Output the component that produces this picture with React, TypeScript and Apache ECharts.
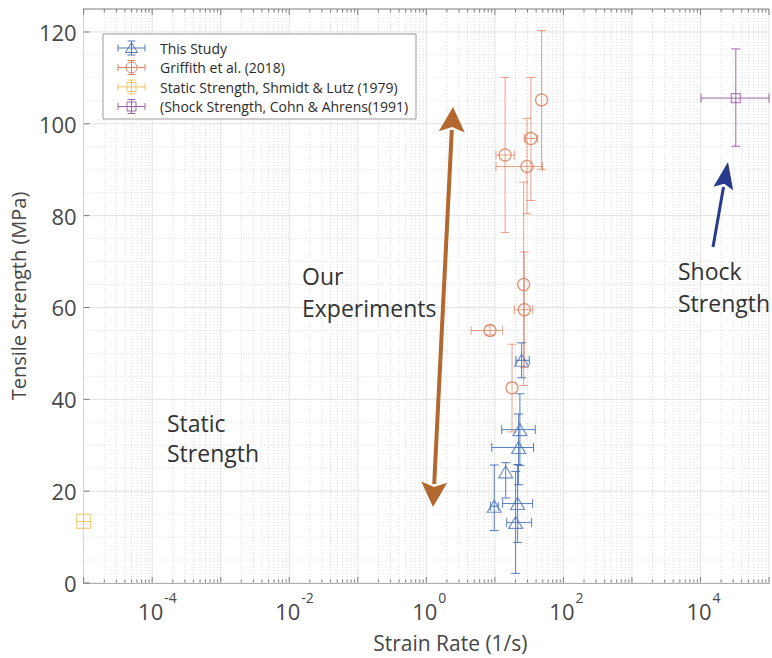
import React, { useEffect, useRef } from 'react';
import * as echarts from 'echarts';

const FONT = '"Open Sans", "Noto Sans", sans-serif';
const AXIS_COLOR = '#7d7d7d';
const TEXT_COLOR = '#474747';

// ---- This Study (blue triangles)
const thisStudyRate = [24.6, 23.2, 22.2, 14.4, 9.8, 21.5, 20.1];
const thisStudyStrength = [48.5, 33.4, 29.5, 24.2, 16.7, 17.3, 13.2];
const thisStudyRateLow = [20.3, 12.6, 9.0, 14.4, 8.6, 13.0, 14.9];
const thisStudyRateHigh = [31.8, 38.8, 36.7, 14.4, 11.2, 35.6, 34.4];
const thisStudyStrengthLow = [44.7, 25.6, 21.4, 18.5, 11.4, 8.8, 2.1];
const thisStudyStrengthHigh = [52.3, 41.2, 36.8, 26.2, 25.7, 25.8, 24.3];

// ---- Griffith et al. (2018) (orange circles)
const griffithRate = [48.0, 33.6, 14.1, 29.4, 26.3, 26.9, 8.5, 17.8];
const griffithStrength = [105.2, 96.8, 93.2, 90.7, 65.0, 59.5, 55.0, 42.5];
const griffithRateLow = [48.0, 26.9, 10.4, 10.4, 26.3, 19.2, 4.5, 17.8];
const griffithRateHigh = [48.0, 42.1, 19.2, 49.7, 26.3, 35.6, 13.0, 17.8];
const griffithStrengthLow = [90.1, 83.3, 76.3, 80.4, 43.0, 46.9, 54.0, 32.9];
const griffithStrengthHigh = [120.3, 110.1, 110.1, 101.2, 87.3, 72.1, 56.0, 52.0];

// ---- Static Strength, Shmidt & Lutz (1979) (yellow square)
const staticRate = [1e-5];
const staticStrength = [13.4];
const staticRateLow = [0.8e-5];
const staticRateHigh = [1.25e-5];
const staticStrengthLow = [11.9];
const staticStrengthHigh = [14.9];

// ---- Shock Strength, Cohn & Ahrens (1991) (purple square)
const shockRate = [32800];
const shockStrength = [105.6];
const shockRateLow = [10200];
const shockRateHigh = [100000];
const shockStrengthLow = [95.1];
const shockStrengthHigh = [116.3];

// ---- axes
const X_MIN = 1e-5;
const X_MAX = 1e5;
const Y_MIN = 0;
const Y_MAX = 125;
const yMajorTicks = [0, 20, 40, 60, 80, 100, 120];
const yMinorTicks = [5, 10, 15, 25, 30, 35, 45, 50, 55, 65, 70, 75, 85, 90, 95, 105, 110, 115];
const xDecadeExponents = [-5, -4, -3, -2, -1, 0, 1, 2, 3, 4, 5];
const xMinorMultipliers = [2, 3, 4, 5, 6, 7, 8, 9];
const xLabelExponents = [-4, -2, 0, 2, 4];

const SERIES_NAMES = [
  'This Study',
  'Griffith et al. (2018)',
  'Static Strength, Shmidt & Lutz (1979)',
  '(Shock Strength, Cohn & Ahrens(1991)',
];
const BLUE = '#4d77b9';
const ORANGE = '#dd8462';
const ORANGE_MARK = '#d8764f';
const YELLOW = '#efc56a';
const PURPLE = '#9a68a8';

function rows(x: number[], y: number[], xl: number[], xh: number[], yl: number[], yh: number[]) {
  return x.map((v, i) => [v, y[i], xl[i], xh[i], yl[i], yh[i]]);
}

function errorBarRender(color: string, cap: number, opacity: number) {
  return (params: any, api: any) => {
    const x = api.value(0);
    const y = api.value(1);
    const xl = api.value(2);
    const xh = api.value(3);
    const yl = api.value(4);
    const yh = api.value(5);
    const c = api.coord([x, y]);
    const style = { stroke: color, lineWidth: 1, fill: null, opacity };
    const children: any[] = [];
    if (yh > yl) {
      const pl = api.coord([x, yl]);
      const ph = api.coord([x, yh]);
      children.push({ type: 'line', shape: { x1: c[0], y1: pl[1], x2: c[0], y2: ph[1] }, style });
      children.push({ type: 'line', shape: { x1: c[0] - cap, y1: pl[1], x2: c[0] + cap, y2: pl[1] }, style });
      children.push({ type: 'line', shape: { x1: c[0] - cap, y1: ph[1], x2: c[0] + cap, y2: ph[1] }, style });
    }
    if (xh > xl) {
      const pl = api.coord([xl, y]);
      const ph = api.coord([xh, y]);
      children.push({ type: 'line', shape: { x1: pl[0], y1: c[1], x2: ph[0], y2: c[1] }, style });
      children.push({ type: 'line', shape: { x1: pl[0], y1: c[1] - cap, x2: pl[0], y2: c[1] + cap }, style });
      children.push({ type: 'line', shape: { x1: ph[0], y1: c[1] - cap, x2: ph[0], y2: c[1] + cap }, style });
    }
    return { type: 'group', children };
  };
}

// grid / tick data: [kind, x, y, exponent]
function buildGridData() {
  const out: number[][] = [];
  xDecadeExponents.forEach((e) => {
    out.push([0, Math.pow(10, e), 0, e]);
    if (e < 5) xMinorMultipliers.forEach((m) => out.push([1, m * Math.pow(10, e), 0, e]));
  });
  yMajorTicks.forEach((v) => out.push([2, 1, v, 0]));
  yMinorTicks.forEach((v) => out.push([3, 1, v, 0]));
  out.push([4, 1, Y_MAX, 0]);
  return out;
}

function gridRender(params: any, api: any) {
  const kind = api.value(0);
  const xv = api.value(1);
  const yv = api.value(2);
  const ex = api.value(3);
  const gridMajor = { stroke: '#e2e2e2', lineWidth: 1 };
  const gridMinor = { stroke: '#dcdcdc', lineWidth: 1, lineDash: [1, 2] };
  const tick = { stroke: AXIS_COLOR, lineWidth: 1 };
  if (kind === 0 || kind === 1) {
    const b = api.coord([xv, Y_MIN]);
    const t = api.coord([xv, Y_MAX]);
    const len = kind === 0 ? 6 : 3.5;
    const children: any[] = [
      { type: 'line', shape: { x1: b[0], y1: b[1], x2: t[0], y2: t[1] }, style: kind === 0 ? gridMajor : gridMinor },
      { type: 'line', shape: { x1: b[0], y1: b[1], x2: b[0], y2: b[1] - len }, style: tick },
      { type: 'line', shape: { x1: t[0], y1: t[1], x2: t[0], y2: t[1] + len }, style: tick },
    ];
    if (kind === 0 && xLabelExponents.indexOf(ex) >= 0) {
      children.push({
        type: 'text', x: b[0] - 1.5, y: b[1] + 28,
        style: { text: '10', font: `22px ${FONT}`, fill: TEXT_COLOR, align: 'center', verticalAlign: 'middle' },
      });
      children.push({
        type: 'text', x: b[0] + 12, y: b[1] + 7,
        style: { text: String(ex), font: `14px ${FONT}`, fill: TEXT_COLOR, align: 'left', verticalAlign: 'top' },
      });
    }
    return { type: 'group', children };
  }
  const l = api.coord([X_MIN, yv]);
  const r = api.coord([X_MAX, yv]);
  if (kind === 4) {
    return { type: 'line', shape: { x1: l[0], y1: l[1], x2: r[0], y2: r[1] }, style: { stroke: AXIS_COLOR, lineWidth: 1 } };
  }
  if (kind === 2) {
    return {
      type: 'group',
      children: [
        { type: 'line', shape: { x1: l[0], y1: l[1], x2: r[0], y2: r[1] }, style: gridMajor },
        { type: 'line', shape: { x1: l[0], y1: l[1], x2: l[0] + 6, y2: l[1] }, style: tick },
      ],
    };
  }
  return { type: 'line', shape: { x1: l[0], y1: l[1], x2: r[0], y2: r[1] }, style: gridMinor };
}

function arrowHead(tip: number[], dir: number[], len: number, halfW: number, notch: number) {
  const n = Math.hypot(dir[0], dir[1]);
  const u = [dir[0] / n, dir[1] / n];
  const p = [-u[1], u[0]];
  const base = [tip[0] - u[0] * len, tip[1] - u[1] * len];
  return [
    tip,
    [base[0] + p[0] * halfW, base[1] + p[1] * halfW],
    [tip[0] - u[0] * (len - notch), tip[1] - u[1] * (len - notch)],
    [base[0] - p[0] * halfW, base[1] - p[1] * halfW],
  ];
}

function legendGraphics() {
  const g: any[] = [
    { type: 'rect', shape: { x: 103, y: 34, width: 313, height: 85 }, style: { fill: '#fff', stroke: '#9b9b9b', lineWidth: 1 }, z: 100 },
  ];
  const colors = [BLUE, ORANGE, YELLOW, PURPLE];
  SERIES_NAMES.forEach((name, i) => {
    const cy = 48 + i * 19.5;
    const cx = 131.5;
    const col = colors[i];
    const st = { stroke: col, lineWidth: 1, fill: null };
    g.push({ type: 'line', shape: { x1: 118, y1: cy, x2: 145, y2: cy }, style: st, z: 101 });
    g.push({ type: 'line', shape: { x1: 118, y1: cy - 3.5, x2: 118, y2: cy + 3.5 }, style: st, z: 101 });
    g.push({ type: 'line', shape: { x1: 145, y1: cy - 3.5, x2: 145, y2: cy + 3.5 }, style: st, z: 101 });
    g.push({ type: 'line', shape: { x1: cx, y1: cy - 7, x2: cx, y2: cy + 7 }, style: st, z: 101 });
    g.push({ type: 'line', shape: { x1: cx - 4, y1: cy - 7, x2: cx + 4, y2: cy - 7 }, style: st, z: 101 });
    g.push({ type: 'line', shape: { x1: cx - 4, y1: cy + 7, x2: cx + 4, y2: cy + 7 }, style: st, z: 101 });
    if (i === 0) {
      g.push({ type: 'polygon', shape: { points: [[cx, cy - 5.5], [cx + 6, cy + 4.5], [cx - 6, cy + 4.5]] }, style: st, z: 101 });
    } else if (i === 1) {
      g.push({ type: 'circle', shape: { cx, cy, r: 5.5 }, style: st, z: 101 });
    } else {
      g.push({ type: 'rect', shape: { x: cx - 4.5, y: cy - 4.5, width: 9, height: 9 }, style: st, z: 101 });
    }
    g.push({
      type: 'text', x: 160, y: cy, z: 101,
      style: { text: name, font: `14px ${FONT}`, fill: '#2b2b2b', verticalAlign: 'middle', align: 'left' },
    });
  });
  return g;
}

function annotationGraphics() {
  const txt = (s: string, x: number, y: number) => ({
    type: 'text', x, y, z: 50,
    style: { text: s, font: `23px ${FONT}`, fill: '#333333', verticalAlign: 'middle', align: 'left' },
  });
  const BROWN = '#b2682f';
  const NAVY = '#283a8e';
  const topTip = [453, 107];
  const botTip = [433, 507];
  const dir = [topTip[0] - botTip[0], topTip[1] - botTip[1]];
  const blueTip = [728, 162];
  const blueTail = [713, 247];
  const bdir = [blueTip[0] - blueTail[0], blueTip[1] - blueTail[1]];
  return [
    txt('Static', 167, 423),
    txt('Strength', 167, 453),
    txt('Our', 302, 276),
    txt('Experiments', 302, 308),
    txt('Shock', 678, 271),
    txt('Strength', 678, 303),
    { type: 'line', z: 50, shape: { x1: 434.2, y1: 484, x2: 451.8, y2: 130 }, style: { stroke: BROWN, lineWidth: 4 } },
    { type: 'polygon', z: 50, shape: { points: arrowHead(topTip, dir, 25, 13, 5) }, style: { fill: BROWN } },
    { type: 'polygon', z: 50, shape: { points: arrowHead(botTip, [-dir[0], -dir[1]], 25, 13, 5) }, style: { fill: BROWN } },
    { type: 'line', z: 50, shape: { x1: blueTail[0], y1: blueTail[1], x2: 723.5, y2: 187 }, style: { stroke: NAVY, lineWidth: 3 } },
    { type: 'polygon', z: 50, shape: { points: arrowHead(blueTip, bdir, 27, 10, 5) }, style: { fill: NAVY } },
  ];
}

export default function App() {
  const ref = useRef<HTMLDivElement>(null);
  useEffect(() => {
    if (!ref.current) return;
    const chart = echarts.init(ref.current, null, { renderer: 'svg' });
    const option: any = {
      animation: false,
      backgroundColor: '#ffffff',
      grid: { left: 81, top: 9, width: 688, height: 580, containLabel: false },
      xAxis: {
        type: 'log',
        logBase: 10,
        min: X_MIN,
        max: X_MAX,
        name: 'Strain Rate (1/s)',
        nameLocation: 'middle',
        nameGap: 49,
        nameTextStyle: { fontFamily: FONT, fontSize: 21, color: TEXT_COLOR, padding: [0, 0, 0, 48] },
        axisLine: { show: true, lineStyle: { color: AXIS_COLOR, width: 1 } },
        axisTick: { show: false },
        minorTick: { show: false },
        splitLine: { show: false },
        axisLabel: { show: false },
      },
      yAxis: {
        type: 'value',
        min: Y_MIN,
        max: Y_MAX,
        interval: 20,
        name: 'Tensile Strength (MPa)',
        nameLocation: 'middle',
        nameGap: 52,
        nameTextStyle: { fontFamily: FONT, fontSize: 20, color: TEXT_COLOR },
        axisLine: { show: true, lineStyle: { color: AXIS_COLOR, width: 1 } },
        axisTick: { show: false },
        splitLine: { show: false },
        axisLabel: {
          margin: 7,
          fontFamily: FONT,
          fontSize: 22,
          color: TEXT_COLOR,
          formatter: (v: number) => (yMajorTicks.indexOf(v) >= 0 ? String(v) : ''),
        },
      },
      series: [
        {
          type: 'custom', name: 'grid', z: 1, silent: true,
          data: buildGridData(), encode: { x: 1, y: 2 },
          renderItem: gridRender,
        },
        {
          type: 'custom', name: SERIES_NAMES[1] + ' err', z: 3,
          data: rows(griffithRate, griffithStrength, griffithRateLow, griffithRateHigh, griffithStrengthLow, griffithStrengthHigh),
          encode: { x: [0, 2, 3], y: [1, 4, 5] },
          renderItem: errorBarRender('#d9532a', 4.5, 0.55),
        },
        {
          type: 'custom', name: SERIES_NAMES[0] + ' err', z: 3,
          data: rows(thisStudyRate, thisStudyStrength, thisStudyRateLow, thisStudyRateHigh, thisStudyStrengthLow, thisStudyStrengthHigh),
          encode: { x: [0, 2, 3], y: [1, 4, 5] },
          renderItem: errorBarRender('#3a68b0', 4.5, 0.85),
        },
        {
          type: 'custom', name: SERIES_NAMES[2] + ' err', z: 3,
          data: rows(staticRate, staticStrength, staticRateLow, staticRateHigh, staticStrengthLow, staticStrengthHigh),
          encode: { x: [0, 2, 3], y: [1, 4, 5] },
          renderItem: errorBarRender(YELLOW, 0, 1),
        },
        {
          type: 'custom', name: SERIES_NAMES[3] + ' err', z: 3,
          data: rows(shockRate, shockStrength, shockRateLow, shockRateHigh, shockStrengthLow, shockStrengthHigh),
          encode: { x: [0, 2, 3], y: [1, 4, 5] },
          renderItem: errorBarRender(PURPLE, 4.5, 1),
        },
        {
          type: 'scatter', name: SERIES_NAMES[1], z: 4, clip: false,
          data: griffithRate.map((v, i) => [v, griffithStrength[i]]),
          symbol: 'circle', symbolSize: 12,
          itemStyle: { color: 'rgba(255,255,255,0)', borderColor: ORANGE_MARK, borderWidth: 1.2 },
        },
        {
          type: 'scatter', name: SERIES_NAMES[0], z: 4, clip: false,
          data: thisStudyRate.map((v, i) => [v, thisStudyStrength[i]]),
          symbol: 'triangle', symbolSize: [14, 12],
          itemStyle: { color: 'rgba(255,255,255,0)', borderColor: BLUE, borderWidth: 1.2 },
        },
        {
          type: 'scatter', name: SERIES_NAMES[2], z: 4, clip: false,
          data: staticRate.map((v, i) => [v, staticStrength[i]]),
          symbol: 'rect', symbolSize: 14,
          itemStyle: { color: 'rgba(255,255,255,0)', borderColor: YELLOW, borderWidth: 1.2 },
        },
        {
          type: 'scatter', name: SERIES_NAMES[3], z: 4, clip: false,
          data: shockRate.map((v, i) => [v, shockStrength[i]]),
          symbol: 'rect', symbolSize: 9,
          itemStyle: { color: 'rgba(255,255,255,0)', borderColor: PURPLE, borderWidth: 1.2 },
        },
      ],
      graphic: [...annotationGraphics(), ...legendGraphics()],
    };
    chart.setOption(option);
    return () => chart.dispose();
  }, []);
  return (
    <div style={{ position: 'fixed', left: 0, top: 0, width: 772, height: 658, overflow: 'hidden', background: '#fff' }}>
      <div ref={ref} style={{ width: 820, height: 658 }} />
    </div>
  );
}
